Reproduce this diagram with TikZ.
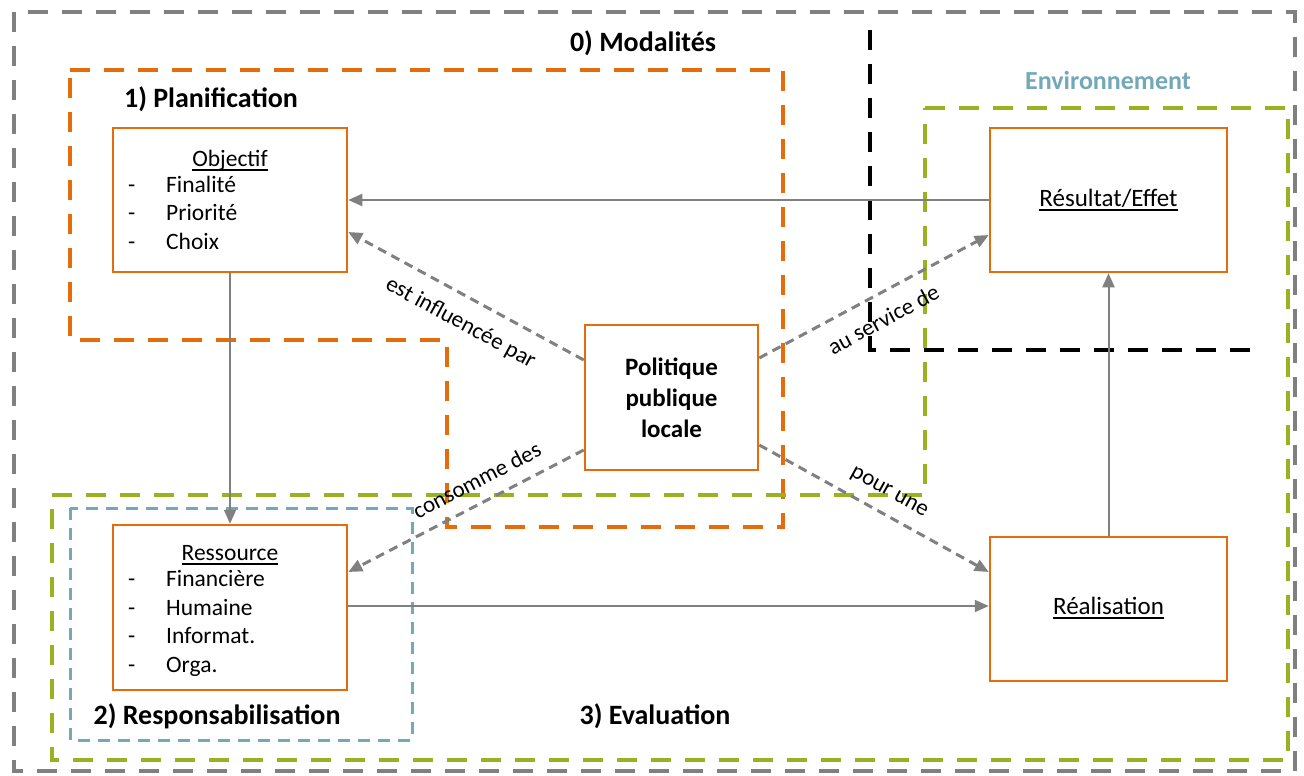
\documentclass[tikz,border=0pt]{standalone}
\usepackage{fontspec}
\setmainfont{Carlito}
\usetikzlibrary{positioning, arrows.meta}
\definecolor{orangeC}{RGB}{228,108,10}
\definecolor{greenC}{RGB}{152,178,34}
\definecolor{blueC}{RGB}{114,168,184}
\definecolor{greyC}{RGB}{128,128,128}
\newcommand{\undl}[1]{\setbox0\hbox{#1}\rlap{\rule[-5pt]{\wd0}{2.5pt}}\box0}

\begin{document}
\begin{tikzpicture}[x=1pt, y=-1pt, >={Triangle[length=14pt,width=12pt]},
    box/.style={draw=orangeC, line width=2.5pt, fill=white, inner sep=0pt},
    frame/.style={line width=4pt, dash pattern=on 20pt off 14pt},
    flow/.style={->, draw=greyC, line width=2pt},
    link/.style={->, draw=greyC, line width=3pt, dash pattern=on 9pt off 6pt},
    lbl/.style={font=\fontsize{23}{26}\selectfont, sloped, inner sep=2pt},
    ttl/.style={font=\fontsize{28}{32}\selectfont\bfseries},
    txt/.style={font=\fontsize{23.5}{28.5}\selectfont, inner sep=0pt}]
    \useasboundingbox (0,0) rectangle (1304,776);

    % Dashed frames
    \draw[frame, greyC] (14,12) rectangle (1295,771);
    \draw[frame, orangeC] (70,70) -- (783,70) -- (783,527) -- (447,527) -- (447,340) -- (70,340) -- cycle;
    \draw[frame, greenC] (925,108) -- (1288,108) -- (1288,760) -- (52,760) -- (52,495) -- (925,495) -- cycle;
    \draw[line width=3pt, blueC, dash pattern=on 12pt off 8pt] (70,508) rectangle (412,740);
    \draw[frame, black] (870,30) -- (870,350) -- (1260,350);

    % Frame titles
    \node[ttl] (modal) at (643,43) {0) Modalités};
    \node[ttl] (planif) at (211,99) {1) Planification};
    \node[ttl] (respons) at (217,716) {2) Responsabilisation};
    \node[ttl] (evalu) at (655,716) {3) Evaluation};
    \node[ttl, font=\fontsize{26}{30}\selectfont\bfseries, text=blueC] (envir) at (1108,80) {Environnement};

    % Boxes
    \node[box, minimum width=234pt, minimum height=144pt] (obj) at (230,200) {};
    \node[box, minimum width=234pt, minimum height=165pt] (ress) at (230,607.5) {};
    \node[box, minimum width=173pt, minimum height=145pt] (pol) at (671.5,397.5) {};
    \node[box, minimum width=237pt, minimum height=144pt] (res) at (1108.5,200) {};
    \node[box, minimum width=237pt, minimum height=144pt] (real) at (1108.5,609) {};

    % Box texts
    \node[txt, anchor=base] (objT) at (230,166) {\undl{Objectif}};
    \node[txt, anchor=base west, align=left] (objL) at (128,249)
        {\makebox[38pt][l]{-}Finalité\\ \makebox[38pt][l]{-}Priorité\\ \makebox[38pt][l]{-}Choix};
    \node[txt, anchor=base] (ressT) at (230,560) {\undl{Ressource}};
    \node[txt, anchor=base west, align=left] (ressL) at (128,672)
        {\makebox[38pt][l]{-}Financière\\ \makebox[38pt][l]{-}Humaine\\ \makebox[38pt][l]{-}Informat.\\ \makebox[38pt][l]{-}Orga.};
    \node[txt, font=\fontsize{25}{31}\selectfont\bfseries, align=center] (polT) at (671.5,398) {Politique\\publique\\locale};
    \node[txt, font=\fontsize{25}{30}\selectfont] (resT) at (1108.5,200) {\undl{Résultat/Effet}};
    \node[txt, font=\fontsize{25}{30}\selectfont] (realT) at (1108.5,608) {\undl{Réalisation}};

    % Solid arrows
    \draw[flow] (res.west) -- (obj.east);
    \draw[flow] (obj.south) -- (ress.north);
    \draw[flow] ([yshift=1.5pt]ress.east) -- ([yshift=1.5pt]ress.east -| real.west);
    \draw[flow] (real.north) -- (res.south);

    % Dashed arrows
    \draw[link] ([yshift=37.5pt]pol.west) -- node[lbl, below=13pt, pos=0.47] (lbl1) {est influencée par} ([yshift=-32pt]obj.east);
    \draw[link] ([yshift=-52.5pt]pol.west) -- node[lbl, above=11pt, pos=0.41] (lbl2) {consomme des} ([yshift=35.5pt]ress.east);
    \draw[link] ([yshift=39.5pt]pol.east) -- node[lbl, below=13pt, pos=0.49] (lbl3) {au service de} ([yshift=-35pt]res.west);
    \draw[link] ([yshift=-47.5pt]pol.east) -- node[lbl, above=10pt, pos=0.52] (lbl4) {pour une} ([yshift=37pt]real.west);
\end{tikzpicture}
\end{document}
